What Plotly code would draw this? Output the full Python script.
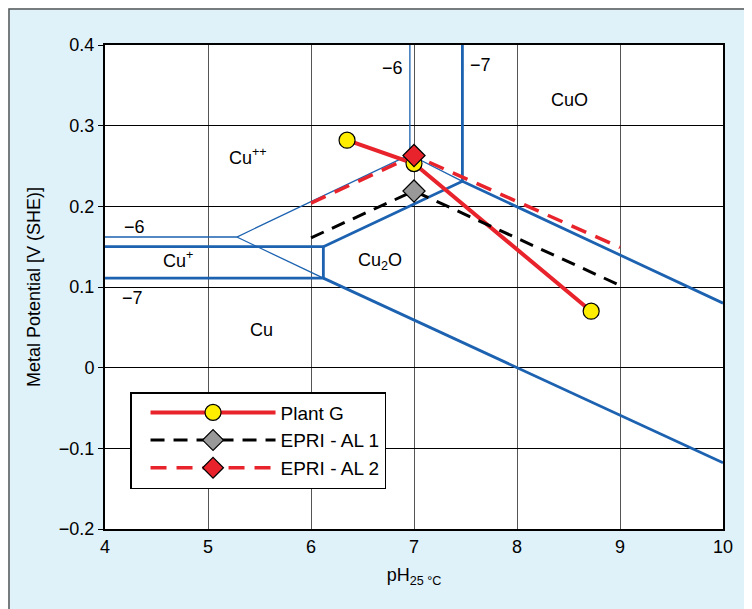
import plotly.graph_objects as go

# ---- data ----
plant_g_ph = [6.35, 7.0, 8.72]
plant_g_e = [0.282, 0.253, 0.070]

al1_ph = [6.0, 7.0, 9.0]
al1_e = [0.161, 0.219, 0.102]

al2_ph = [6.0, 7.0, 9.0]
al2_e = [0.204, 0.263, 0.149]

# thick boundary lines (pH, E), None separates segments
thick_ph = [4, 6.12, 6.12, 4, None, 6.12, 7.47, 10, None, 7.47, 7.47, None, 6.12, 10]
thick_e = [0.150, 0.150, 0.111, 0.111, None, 0.150, 0.231, 0.080, None, 0.231, 0.4, None, 0.111, -0.118]

# thin boundary lines (10^-6)
thin_ph = [4, 5.28, 6.96, 6.96, None, 5.28, 6.12, None, 6.96, 7.47]
thin_e = [0.162, 0.162, 0.264, 0.4, None, 0.162, 0.111, None, 0.264, 0.231]

# region labels
label_text = ["\u22126", "\u22127", "CuO", "Cu<sup>++</sup>", "\u22126", "Cu<sup>+</sup>",
              "\u22127", "Cu<sub>2</sub>O", "Cu"]
label_ph = [6.79, 7.65, 8.51, 5.39, 4.29, 4.71, 4.27, 6.67, 5.52]
label_e = [0.372, 0.375, 0.332, 0.262, 0.174, 0.134, 0.086, 0.131, 0.047]

x_ticks = [4, 5, 6, 7, 8, 9, 10]
y_ticks = [-0.2, -0.1, 0, 0.1, 0.2, 0.3, 0.4]
y_ticktext = ["\u22120.2", "\u22120.1", "0", "0.1", "0.2", "0.3", "0.4"]

BLUE = "#1c62b0"
RED = "#e8232b"
FONT = "Liberation Sans"
FS = 18

fig = go.Figure()

fig.add_trace(go.Scatter(x=thin_ph, y=thin_e, mode="lines",
                         line=dict(color=BLUE, width=1.3), showlegend=False,
                         hoverinfo="skip"))
fig.add_trace(go.Scatter(x=thick_ph, y=thick_e, mode="lines",
                         line=dict(color=BLUE, width=2.8), showlegend=False,
                         hoverinfo="skip"))

fig.add_trace(go.Scatter(
    x=plant_g_ph, y=plant_g_e, mode="lines+markers", name="Plant G",
    line=dict(color=RED, width=4),
    marker=dict(symbol="circle", size=16, color="#ffee00",
                line=dict(color="black", width=1.2)),
))
fig.add_trace(go.Scatter(
    x=al1_ph, y=al1_e, mode="lines+markers", name="EPRI - AL 1",
    line=dict(color="black", width=3, dash="14px,9px"),
    marker=dict(symbol="diamond", size=17, color="#999999",
                line=dict(color="black", width=1.2)),
    selectedpoints=[1], unselected=dict(marker=dict(opacity=0)),
))
fig.add_trace(go.Scatter(
    x=al2_ph, y=al2_e, mode="lines+markers", name="EPRI - AL 2",
    line=dict(color=RED, width=3.5, dash="16px,10px"),
    marker=dict(symbol="diamond", size=17, color=RED,
                line=dict(color="black", width=1.2)),
    selectedpoints=[1], unselected=dict(marker=dict(opacity=0)),
))

for t, xv, yv in zip(label_text, label_ph, label_e):
    fig.add_annotation(x=xv, y=yv, text=t, showarrow=False,
                       font=dict(size=FS, color="black", family=FONT))

# outer frame border (top and left visible)
fig.add_shape(type="rect", xref="paper", yref="paper", x0=-96 / 618, x1=1.2,
              y0=-0.3, y1=1 + 36 / 484, line=dict(color="#555555", width=1.5),
              layer="above")

fig.update_layout(
    width=744, height=601,
    margin=dict(l=97, r=29, t=37, b=80),
    paper_bgcolor="#dff1f9", plot_bgcolor="white",
    font=dict(family=FONT, size=FS, color="black"),
    showlegend=True,
    legend=dict(x=0.0405, y=0.283, xanchor="left", yanchor="top",
                bgcolor="white", bordercolor="black", borderwidth=1.5,
                itemwidth=125, indentation=14, traceorder="normal",
                font=dict(size=19, family=FONT)),
    xaxis=dict(range=[4, 10], tickvals=x_ticks, showgrid=True,
               gridcolor="#555555", gridwidth=1, showline=True, mirror=True,
               linecolor="black", linewidth=2, zeroline=False, ticks="",
               title=dict(text="pH<sub>25 °C</sub>", standoff=13,
                          font=dict(size=FS))),
    yaxis=dict(range=[-0.2, 0.4], tickvals=y_ticks, ticktext=y_ticktext,
               showgrid=True, gridcolor="black", gridwidth=1, showline=True,
               mirror=True, linecolor="black", linewidth=2, zeroline=False,
               ticks="outside", ticklen=5, tickcolor="black",
               title=dict(text="Metal Potential [V (SHE)]", standoff=14,
                          font=dict(size=FS))),
)

fig.write_html("out.html")
